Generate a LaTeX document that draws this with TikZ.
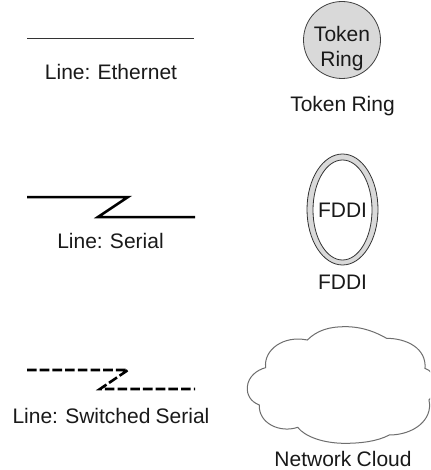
\documentclass[tikz,border=0pt]{standalone}
\usepackage{fontspec}
\setmainfont[WordSpace=0.9]{Liberation Sans}
\definecolor{lg}{RGB}{217,217,217}
\definecolor{cl}{RGB}{110,110,110}
\tikzset{
  lbl/.style={inner sep=0pt,anchor=base,font=\fontsize{21}{24}\selectfont,text=black!90},
  thinline/.style={draw=black!80,line width=1pt},
  serial/.style={draw=black,line width=2.5pt,line join=miter},
  swserial/.style={draw=black,line width=2.6pt,dash pattern=on 9.6pt off 3.1pt},
}
\begin{document}
\begin{tikzpicture}[x=1pt,y=-1pt]
\useasboundingbox (0,0) rectangle (430,470);
\clip (0,0) rectangle (430,470);
% Ethernet
\coordinate (e1) at (27,39); \coordinate (e2) at (194,39);
\draw[thinline] (e1) -- (e2);
\node[lbl] (el) at (111,80) {Line: Ethernet};
% Serial
\coordinate (s1) at (27,197); \coordinate (s2) at (128,197);
\coordinate (s3) at (98,217); \coordinate (s4) at (195,217);
\draw[serial] (s1) -- (s2) -- (s3) -- (s4);
\node[lbl] (sl) at (110.5,248) {Line: Serial};
% Switched serial
\coordinate (w1) at (27,370); \coordinate (w2) at (128,370);
\coordinate (w3) at (100,389); \coordinate (w4) at (195,389);
\draw[swserial] (w1) -- (w2) -- (w3) -- (w4);
\node[lbl] (wl) at (111,423) {Line: Switched Serial};
% Token ring
\node[circle,draw=black!75,fill=lg,line width=0.8pt,minimum size=77pt,inner sep=0pt] (tr) at (342,40) {};
\node[lbl] (t1) at (342,42) {Token};
\node[lbl] (t2) at (342,67) {Ring};
\node[lbl] (trl) at (342.5,112) {Token Ring};
% FDDI
\path[fill=lg,draw=black!80,line width=0.8pt] (342.5,209.5) ellipse [x radius=35.5,y radius=55.5];
\path[fill=white,draw=black!80,line width=0.8pt] (342.5,210) ellipse [x radius=29.5,y radius=50];
\node[lbl] (fd) at (342.5,217) {FDDI};
\node[lbl] (fdl) at (342.5,289) {FDDI};
% Cloud
\begin{scope}[shift={(230,320)},x=0.3333pt,y=-0.3333pt]
\draw[cl,line width=1pt,fill=white]
  (232,60) .. controls (262,30) and (300,20) .. (345,20)
  .. controls (400,20) and (440,38) .. (470,55)
  .. controls (530,55) and (590,85) .. (585,145)
  .. controls (620,155) and (625,215) .. (597,240)
  .. controls (610,300) and (550,345) .. (478,345)
  .. controls (440,365) and (390,370) .. (345,370)
  .. controls (280,370) and (225,350) .. (203,322)
  .. controls (150,340) and (85,310) .. (88,255)
  .. controls (62,245) and (50,225) .. (52,200)
  .. controls (55,170) and (80,150) .. (107,143)
  .. controls (100,90) and (160,45) .. (232,60) -- cycle;
\end{scope}
\node[lbl] (cll) at (343,466) {Network Cloud};
\end{tikzpicture}
\end{document}
